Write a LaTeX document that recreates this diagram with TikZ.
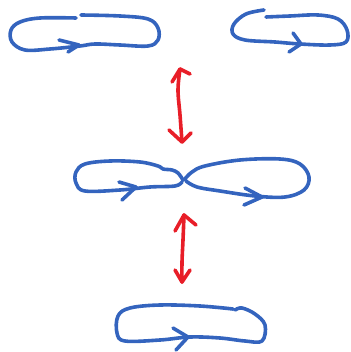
\documentclass[tikz,border=0pt]{standalone}
\definecolor{penblue}{RGB}{52,100,190}
\definecolor{penred}{RGB}{232,30,40}
\tikzset{
  bluepen/.style={draw=penblue,line width=3.6pt,line cap=round,line join=round},
  redpen/.style={draw=penred,line width=3.6pt,line cap=round,line join=round},
}
\begin{document}
\begin{tikzpicture}[x=1pt,y=-1pt]
\useasboundingbox (0,0) rectangle (350,352);
% top-left loop
\draw[bluepen] plot[smooth,tension=0.6] coordinates {(81,15) (120,16) (148,19) (158,28) (158,40) (148,46) (120,45) (95,44) (80,46) (50,49) (25,50) (12,42) (11,30) (20,22) (40,18) (76,18)};
\draw[bluepen] (59,40) -- (79,45) -- (68,52);
% top-right loop
\draw[bluepen] plot[smooth,tension=0.6] coordinates {(264,10) (246,14) (234,24) (233,34) (245,40) (275,42) (300,44) (330,45) (346,42) (347,30) (338,19) (318,15) (290,16) (266,17)};
\draw[bluepen] (293,33) -- (301,44) -- (289,52);
% middle-left loop
\draw[bluepen] plot[smooth,tension=0.6] coordinates {(183,180) (178,173) (172,170) (163,169) (158,166) (140,162) (110,161) (85,164) (76,172) (76,183) (85,191) (120,190) (150,187) (175,186) (182,182)};
\draw[bluepen] (119,182) -- (136,187) -- (122,200);
% middle-right loop
\draw[bluepen] plot[smooth,tension=0.6] coordinates {(184,180) (192,172) (205,166) (240,160) (280,159) (300,164) (309,177) (304,190) (285,197) (255,196) (220,191) (197,187) (186,181)};
\draw[bluepen] (245,188) -- (262,197) -- (244,205);
% bottom loop
\draw[bluepen] plot[smooth,tension=0.6] coordinates {(233,309) (200,306) (160,305) (130,308) (118,316) (117,333) (125,341) (160,340) (190,337) (220,338) (245,341) (262,341) (265,325) (255,314) (242,308) (235,310)};
\draw[bluepen] (173,328) -- (188,337) -- (176,350);
% red arrows
\draw[redpen] plot[smooth,tension=0.6] coordinates {(180,69) (178,90) (180,115) (182,142)};
\draw[redpen] (172,82) -- (180,69) -- (190,74);
\draw[redpen] (169,130) -- (182,142) -- (191,133);
\draw[redpen] plot[smooth,tension=0.6] coordinates {(184,215) (183,240) (182,262) (182,282)};
\draw[redpen] (175,231) -- (184,215) -- (196,225);
\draw[redpen] (175,270) -- (182,282) -- (190,270);
\end{tikzpicture}
\end{document}
